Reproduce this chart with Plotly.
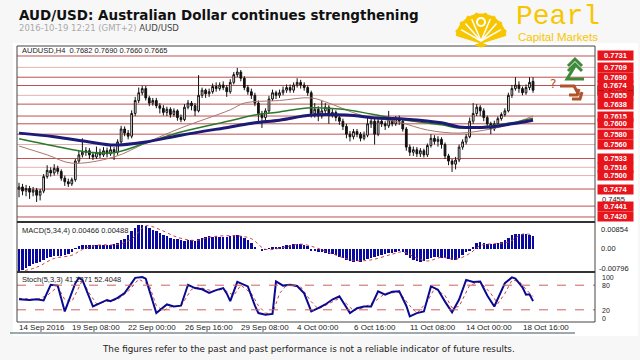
import math
import plotly.graph_objects as go

# ---------------- data ----------------
opens = [0.7474,0.7478,0.7470,0.7475,0.7468,0.7472,0.7462,0.7470,0.7498,0.7510,
         0.7505,0.7514,0.7508,0.7495,0.7488,0.7484,0.7492,0.7528,0.7540,0.7545,
         0.7548,0.7540,0.7536,0.7545,0.7540,0.7548,0.7542,0.7550,0.7545,0.7565,
         0.7590,0.7582,0.7576,0.7620,0.7645,0.7660,0.7668,0.7650,0.7640,0.7645,
         0.7635,0.7630,0.7622,0.7628,0.7618,0.7625,0.7612,0.7608,0.7632,0.7640,
         0.7635,0.7625,0.7655,0.7665,0.7658,0.7662,0.7672,0.7668,0.7675,0.7670,
         0.7662,0.7680,0.7695,0.7700,0.7688,0.7670,0.7662,0.7655,0.7640,0.7620,
         0.7612,0.7625,0.7648,0.7660,0.7655,0.7660,0.7665,0.7670,0.7665,0.7675,
         0.7680,0.7675,0.7670,0.7660,0.7620,0.7628,0.7615,0.7625,0.7632,0.7618,
         0.7622,0.7612,0.7605,0.7595,0.7580,0.7575,0.7585,0.7580,0.7572,0.7578,
         0.7600,0.7605,0.7580,0.7605,0.7600,0.7596,0.7608,0.7600,0.7610,0.7605,
         0.7590,0.7555,0.7545,0.7550,0.7542,0.7548,0.7540,0.7558,0.7572,0.7566,
         0.7570,0.7560,0.7538,0.7528,0.7522,0.7530,0.7555,0.7565,0.7575,0.7605,
         0.7620,0.7632,0.7625,0.7612,0.7600,0.7590,0.7600,0.7610,0.7618,0.7625,
         0.7655,0.7668,0.7675,0.7668,0.7660,0.7670,0.7682]
highs = [0.7486,0.7484,0.7482,0.7480,0.7478,0.7476,0.7474,0.7503,0.7520,0.7516,
         0.7522,0.7519,0.7512,0.7500,0.7494,0.7496,0.7532,0.7548,0.7572,0.7555,
         0.7553,0.7546,0.7556,0.7552,0.7555,0.7554,0.7557,0.7555,0.7570,0.7596,
         0.7595,0.7588,0.7626,0.7652,0.7670,0.7673,0.7673,0.7654,0.7650,0.7650,
         0.7640,0.7636,0.7633,0.7632,0.7630,0.7628,0.7618,0.7638,0.7646,0.7644,
         0.7640,0.7694,0.7670,0.7668,0.7668,0.7678,0.7680,0.7680,0.7682,0.7675,
         0.7686,0.7700,0.7708,0.7704,0.7692,0.7675,0.7668,0.7660,0.7645,0.7625,
         0.7630,0.7654,0.7666,0.7664,0.7666,0.7672,0.7676,0.7676,0.7680,0.7688,
         0.7685,0.7680,0.7674,0.7664,0.7640,0.7634,0.7645,0.7640,0.7636,0.7630,
         0.7626,0.7618,0.7610,0.7600,0.7586,0.7590,0.7590,0.7584,0.7585,0.7612,
         0.7612,0.7610,0.7612,0.7610,0.7605,0.7625,0.7612,0.7615,0.7616,0.7610,
         0.7594,0.7560,0.7556,0.7555,0.7553,0.7552,0.7562,0.7580,0.7578,0.7576,
         0.7574,0.7564,0.7542,0.7532,0.7536,0.7560,0.7570,0.7580,0.7612,0.7640,
         0.7638,0.7636,0.7630,0.7616,0.7604,0.7606,0.7614,0.7622,0.7630,0.7660,
         0.7675,0.7690,0.7682,0.7672,0.7676,0.7690,0.7690]
lows = [0.7458,0.7462,0.7460,0.7455,0.7460,0.7449,0.7452,0.7466,0.7494,0.7498,
        0.7500,0.7502,0.7490,0.7480,0.7478,0.7480,0.7488,0.7524,0.7535,0.7538,
        0.7532,0.7530,0.7532,0.7534,0.7536,0.7535,0.7538,0.7530,0.7540,0.7560,
        0.7576,0.7570,0.7572,0.7615,0.7640,0.7655,0.7645,0.7634,0.7635,0.7630,
        0.7620,0.7616,0.7615,0.7612,0.7614,0.7606,0.7603,0.7605,0.7628,0.7626,
        0.7615,0.7622,0.7650,0.7650,0.7652,0.7658,0.7662,0.7664,0.7665,0.7652,
        0.7658,0.7676,0.7690,0.7682,0.7665,0.7656,0.7648,0.7634,0.7605,0.7592,
        0.7606,0.7620,0.7644,0.7648,0.7650,0.7655,0.7660,0.7660,0.7660,0.7670,
        0.7668,0.7664,0.7654,0.7612,0.7612,0.7605,0.7610,0.7618,0.7600,0.7612,
        0.7605,0.7598,0.7588,0.7572,0.7566,0.7570,0.7574,0.7566,0.7568,0.7574,
        0.7592,0.7560,0.7576,0.7594,0.7588,0.7592,0.7595,0.7596,0.7598,0.7585,
        0.7548,0.7538,0.7538,0.7536,0.7536,0.7535,0.7536,0.7554,0.7560,0.7556,
        0.7552,0.7532,0.7520,0.7507,0.7512,0.7526,0.7550,0.7560,0.7572,0.7600,
        0.7615,0.7615,0.7605,0.7594,0.7580,0.7586,0.7596,0.7606,0.7614,0.7622,
        0.7650,0.7664,0.7660,0.7655,0.7656,0.7665,0.7660]
closes = [0.7478,0.7470,0.7475,0.7468,0.7472,0.7462,0.7470,0.7498,0.7510,0.7505,
          0.7514,0.7508,0.7495,0.7488,0.7484,0.7492,0.7528,0.7540,0.7545,0.7548,
          0.7540,0.7536,0.7545,0.7540,0.7548,0.7542,0.7550,0.7545,0.7565,0.7590,
          0.7582,0.7576,0.7620,0.7645,0.7660,0.7668,0.7650,0.7640,0.7645,0.7635,
          0.7630,0.7622,0.7628,0.7618,0.7625,0.7612,0.7608,0.7632,0.7640,0.7635,
          0.7625,0.7655,0.7665,0.7658,0.7662,0.7672,0.7668,0.7675,0.7670,0.7662,
          0.7680,0.7695,0.7700,0.7688,0.7670,0.7662,0.7655,0.7640,0.7620,0.7612,
          0.7625,0.7648,0.7660,0.7655,0.7660,0.7665,0.7670,0.7665,0.7675,0.7680,
          0.7675,0.7670,0.7660,0.7620,0.7628,0.7615,0.7625,0.7632,0.7618,0.7622,
          0.7612,0.7605,0.7595,0.7580,0.7575,0.7585,0.7580,0.7572,0.7578,0.7600,
          0.7605,0.7580,0.7605,0.7600,0.7596,0.7608,0.7600,0.7610,0.7605,0.7590,
          0.7555,0.7545,0.7550,0.7542,0.7548,0.7540,0.7558,0.7572,0.7566,0.7570,
          0.7560,0.7538,0.7528,0.7522,0.7530,0.7555,0.7565,0.7575,0.7605,0.7620,
          0.7632,0.7625,0.7612,0.7600,0.7590,0.7600,0.7610,0.7618,0.7625,0.7655,
          0.7668,0.7675,0.7668,0.7660,0.7670,0.7680,0.7665]

ma_slow_idx = [0,10,20,27,36,46,60,67,74,83,93,102,110,120,125,134,140,146]
ma_slow = [0.7582,0.7575,0.7565,0.7559,0.7565,0.7578,0.7594,0.7602,0.7607,0.7617,
           0.7617,0.7611,0.7609,0.7602,0.7594,0.7594,0.7600,0.7607]
ma_mid_idx = [0,10,20,27,36,46,60,67,74,83,92,100,110,120,125,134,140,146]
ma_mid = [0.7571,0.7557,0.7545,0.7544,0.7563,0.7584,0.7606,0.7617,0.7623,0.7631,
          0.7628,0.7619,0.7607,0.7598,0.7592,0.7596,0.7602,0.7611]
ma_fast_idx = [0,8,15,27,36,46,60,64,74,83,88,97,108,116,125,134,140,146]
ma_fast = [0.7557,0.7540,0.7524,0.7536,0.7563,0.7592,0.7627,0.7640,0.7645,0.7650,
           0.7640,0.7617,0.7603,0.7588,0.7582,0.7590,0.7600,0.7615]

levels = [0.7731,0.7709,0.7690,0.7674,0.7655,0.7638,0.7615,0.7600,0.7580,0.7560,
          0.7533,0.7516,0.7500,0.7474,0.7441,0.7420]
level_dark = [True,False,True,True,False,True,True,True,True,False,
              True,False,False,True,True,True]
last_price = 0.7665

macd_hist = [-0.0076,-0.0072,
             -0.0066,-0.0060,-0.0054,-0.0050,
             -0.0045,-0.0038,-0.0032,-0.0027,
             -0.0025,-0.0023,-0.0024,-0.0021,-0.0019,
             -0.0010,0.0002,
             0.0012,0.0014,0.0015,0.0014,0.0013,0.0014,0.0015,0.0013,0.0014,0.0015,0.0016,
             0.0022,0.0030,0.0036,
             0.0048,0.0062,0.0075,0.0083,
             0.0085,0.0080,0.0074,0.0068,0.0062,0.0056,0.0050,
             0.0045,0.0040,0.0036,0.0034,0.0030,0.0029,0.0032,0.0030,0.0028,0.0034,
             0.0040,0.0043,0.0044,0.0043,0.0044,0.0042,0.0043,0.0041,
             0.0044,0.0048,0.0050,0.0046,0.0040,
             0.0030,0.0020,0.0008,0.0000,-0.0006,
             -0.0002,0.0003,0.0004,0.0005,
             0.0008,0.0011,0.0013,0.0015,0.0017,0.0018,0.0016,0.0014,0.0010,
             -0.0004,-0.0008,-0.0011,-0.0012,-0.0014,
             -0.0016,-0.0018,-0.0022,-0.0027,-0.0033,-0.0038,-0.0042,-0.0044,-0.0043,-0.0044,-0.0040,-0.0034,
             -0.0030,-0.0027,-0.0025,-0.0022,-0.0018,-0.0015,-0.0013,
             -0.0010,-0.0008,-0.0012,-0.0022,
             -0.0032,-0.0038,-0.0042,-0.0044,-0.0041,
             -0.0036,-0.0031,-0.0028,-0.0027,-0.0030,-0.0032,-0.0036,
             -0.0040,-0.0038,
             -0.0030,-0.0020,-0.0012,-0.0004,0.0008,
             0.0020,0.0024,0.0022,0.0019,0.0017,0.0018,0.0021,0.0024,0.0030,
             0.0040,0.0048,0.0053,0.0054,0.0052,0.0053,0.0050,0.0047]
macd_sig_idx = [0,5,10,15,18,22,28,32,36,40,45,50,55,62,66,70,75,80,84,88,95,
                100,106,109,113,116,120,124,128,131,135,139,143,146]
macd_sig = [-0.0080,-0.0064,-0.0033,-0.0022,-0.0002,0.0013,0.0016,0.0035,0.0081,
            0.0068,0.0041,0.0030,0.0043,0.0046,0.0036,-0.0001,0.0005,0.0017,0.0006,
            -0.0012,-0.0040,-0.0038,-0.0018,-0.0010,-0.0032,-0.0042,-0.0029,-0.0036,
            -0.0016,0.0012,0.0019,0.0024,0.0052,0.0049]

stoch_k_idx = [0,3,5,7,9,11,13,16,17,18,21,23,25,26,28,30,32,33,35,36,39,41,42,44,
               46,48,50,52,54,56,58,59,60,62,64,65,67,68,70,72,73,75,77,79,81,83,
               85,87,89,91,94,96,98,100,102,104,106,108,110,111,113,115,117,119,
               121,123,125,127,129,131,133,135,138,140,141,143,144,145,146]
stoch_k = [46,44,46,43,81,79,16,85,98,93,28,37,44,41,49,61,85,98,100,96,12,25,33,
           28,30,81,73,70,61,68,73,60,41,88,80,77,30,12,8,10,89,79,81,78,60,16,
           24,33,45,53,12,24,28,28,65,57,64,65,30,4,12,16,77,69,40,14,45,93,88,
           89,55,28,85,99,96,75,57,58,41.24]
stoch_d_idx = [0,5,8,11,13,15,18,20,22,25,28,31,34,37,39,41,43,46,49,51,55,58,61,
               63,66,68,70,72,74,76,80,83,85,88,91,93,95,98,101,104,108,111,113,
               116,118,121,123,125,128,131,134,136,138,140,142,144,146]
stoch_d = [48,45,55,76,45,40,92,60,35,40,45,65,95,80,30,18,27,29,70,75,66,70,55,
           80,60,30,12,10,60,80,76,40,22,35,48,35,18,26,40,60,63,30,12,40,72,55,
           25,28,80,88,60,35,60,92,90,70,52.40]

date_idx = [0,15,31,47,63,79,95,111,127,143]
date_labels = ["14 Sep 2016","19 Sep 08:00","22 Sep 00:00","26 Sep 16:00",
               "29 Sep 08:00","4 Oct 00:00","6 Oct 16:00","11 Oct 08:00",
               "14 Oct 00:00","18 Oct 16:00"]

# ---------------- layout helpers ----------------
W, H = 640, 360
ML, MR, MT, MB = 17, 45, 46, 38
PW, PH = W - ML - MR, H - MT - MB
def px(x): return (x - ML) / PW
def py(y): return (H - MB - y) / PH

xs = list(range(len(closes)))
fig = go.Figure()

fig.add_trace(go.Candlestick(
    x=xs, open=opens, high=highs, low=lows, close=closes,
    increasing=dict(line=dict(color="#111", width=1), fillcolor="#ffffff"),
    decreasing=dict(line=dict(color="#111", width=1), fillcolor="#111111"),
    whiskerwidth=0, showlegend=False, hoverinfo="skip", yaxis="y"))
fig.add_trace(go.Scatter(x=ma_fast_idx, y=ma_fast, mode="lines", line=dict(color="#a87770", width=1, shape="spline"), yaxis="y", showlegend=False))
fig.add_trace(go.Scatter(x=ma_mid_idx, y=ma_mid, mode="lines", line=dict(color="#2b7a2b", width=1.5, shape="spline"), yaxis="y", showlegend=False))
fig.add_trace(go.Scatter(x=ma_slow_idx, y=ma_slow, mode="lines", line=dict(color="#1c1c78", width=3, shape="spline"), yaxis="y", showlegend=False))

fig.add_trace(go.Bar(x=xs, y=macd_hist, marker=dict(color="#0a0aa0", line=dict(width=0)), width=0.7, yaxis="y2", showlegend=False))
fig.add_trace(go.Scatter(x=macd_sig_idx, y=macd_sig, mode="lines", line=dict(color="#d04040", width=1, dash="dot", shape="spline"), yaxis="y2", showlegend=False))

fig.add_trace(go.Scatter(x=stoch_d_idx, y=stoch_d, mode="lines", line=dict(color="#d04040", width=1, dash="dot"), yaxis="y3", showlegend=False))
fig.add_trace(go.Scatter(x=stoch_k_idx, y=stoch_k, mode="lines", line=dict(color="#0a0a90", width=2), yaxis="y3", showlegend=False))

shapes = []
shapes.append(dict(type="rect", xref="paper", yref="paper", x0=px(13), x1=px(638), y0=py(336), y1=py(43), fillcolor="white", line=dict(width=0), layer="below"))
for lv, dk in zip(levels, level_dark):
    shapes.append(dict(type="line", xref="paper", yref="y", x0=0, x1=1, y0=lv, y1=lv,
                       line=dict(color="#c0504d" if dk else "#e6b0b0", width=1), layer="below"))
shapes.append(dict(type="line", xref="paper", yref="y3", x0=0, x1=1, y0=80, y1=80, line=dict(color="#d06060", width=1, dash="dash")))
shapes.append(dict(type="line", xref="paper", yref="y3", x0=0, x1=1, y0=20, y1=20, line=dict(color="#d06060", width=1, dash="dash")))
for a, b in [(46, 222), (222, 272), (272, 322)]:
    shapes.append(dict(type="rect", xref="paper", yref="paper", x0=0, x1=1, y0=py(b), y1=py(a), line=dict(color="#444", width=1)))
for yy in (222, 272):
    shapes.append(dict(type="line", xref="paper", yref="paper", x0=0, x1=1, y0=py(yy), y1=py(yy), line=dict(color="#333", width=2)))
shapes.append(dict(type="line", xref="paper", yref="paper", x0=px(10), x1=px(575), y0=py(333), y1=py(333), line=dict(color="#3a5560", width=1)))

# shell logo
cx, cy, r = 481, 39, 25
pts = []
for k in range(0, 33):
    th = math.radians(8 + k * (164 / 32))
    rr = r + (1.5 if k % 4 == 2 else 0)
    pts.append((cx + rr * math.cos(th), cy - rr * math.sin(th)))
path = "M %f %f " % (px(cx - 6), py(cy + 6))
path += " ".join("L %f %f" % (px(a), py(b)) for a, b in pts)
path += " L %f %f L %f %f Z" % (px(cx + 6), py(cy + 6), px(cx), py(cy + 8))
shapes.append(dict(type="path", xref="paper", yref="paper", path=path, fillcolor="#f7c600", line=dict(color="#f7c600", width=1)))
for ang in (25, 45, 65, 115, 135, 155):
    th = math.radians(ang)
    shapes.append(dict(type="line", xref="paper", yref="paper", x0=px(cx), y0=py(cy + 2),
                       x1=px(cx + (r - 3) * math.cos(th)), y1=py(cy - (r - 3) * math.sin(th)),
                       line=dict(color="white", width=1.5)))
shapes.append(dict(type="circle", xref="paper", yref="paper", x0=px(cx - 5), x1=px(cx + 5), y0=py(cy - 12), y1=py(cy - 22), fillcolor="white", line=dict(width=0)))
shapes.append(dict(type="circle", xref="paper", yref="paper", x0=px(cx - 3), x1=px(cx + 3), y0=py(cy - 14), y1=py(cy - 20), fillcolor="#f7c600", line=dict(width=0)))

def P(pl):
    return "M " + " L ".join("%f %f" % (px(a), py(b)) for a, b in pl)
green = "#3f8a3a"
for pl in ([(568, 66), (575, 59), (582, 66)], [(568, 71), (575, 64), (582, 71)], [(575, 66), (567, 79), (584, 79)]):
    shapes.append(dict(type="path", xref="paper", yref="paper", path=P(pl), line=dict(color=green, width=3)))
brown = "#b0532a"
for pl in ([(560, 86), (574, 86), (579, 95)], [(572, 99), (580, 99), (582, 92)], [(569, 95), (577, 95), (579, 89)]):
    shapes.append(dict(type="path", xref="paper", yref="paper", path=P(pl), line=dict(color=brown, width=3)))

ann = []
def txt(x, y, s, size=8, color="#222", xa="left", ya="middle", family="DejaVu Sans", **kw):
    ann.append(dict(x=px(x), y=py(y), xref="paper", yref="paper", text=s, showarrow=False,
                    xanchor=xa, yanchor=ya, font=dict(size=size, color=color, family=family), **kw))

SMALL = "Liberation Sans"
txt(17, 15, "<b>AUD/USD: Australian Dollar continues strengthening</b>", size=13.5, color="#111")
txt(17, 28, "2016-10-19 12:21 (GMT+2) <span style='color:#444'>AUD/USD</span>", size=8.5, color="#aaa")
txt(514, 17, "Pearl", size=28, color="#f7c600", family="Liberation Mono")
txt(516, 37, "Capital Markets", size=11.5, color="#f7c600", family="Liberation Sans")
txt(20, 51, "AUDUSD,H4  0.7682 0.7690 0.7660 0.7665", size=7.5, color="#222", family=SMALL)
txt(20, 230, "MACD(5,34,4) 0.00466 0.00488", size=7.5, color="#222", family=SMALL)
txt(20, 279, "Stoch(5,3,3) 41.2371 52.4048", size=7.5, color="#222", family=SMALL)
txt(548, 84, "?", size=12, color=brown)
txt(600, 199, "0.7455", size=7.5, color="#222", family=SMALL)
txt(599, 229, "0.00854", size=7.5, color="#222", family=SMALL)
txt(599, 249, "0.00", size=7.5, color="#222", family=SMALL)
txt(597, 268, "-0.00796", size=7.5, color="#222", family=SMALL)
txt(600, 277, "100", size=7, color="#222", family=SMALL)
txt(600, 285, "80", size=7, color="#222", family=SMALL)
txt(600, 310, "20", size=7, color="#222", family=SMALL)
txt(600, 318.5, "0", size=7, color="#222", family=SMALL)
txt(308, 349, "The figures refer to the past and past performance is not a reliable indicator of future results.", size=8.8, color="#222", xa="center")

ann.append(dict(x=px(597), y=last_price, xref="paper", yref="y", text="<b>0.7665</b>", showarrow=False,
                xanchor="left", yanchor="middle", bgcolor="#000", borderpad=0, width=35,
                font=dict(size=7.5, color="white", family=SMALL)))
for lv in levels:
    ann.append(dict(x=px(597), y=lv, xref="paper", yref="y", text="<b>%.4f</b>" % lv, showarrow=False,
                    xanchor="left", yanchor="middle", bgcolor="#e8141c", borderpad=0, width=35,
                    font=dict(size=7.5, color="white", family=SMALL)))
for i, lab in zip(date_idx, date_labels):
    ann.append(dict(x=i - 0.5, y=py(327), xref="x", yref="paper", text=lab, showarrow=False,
                    xanchor="left", yanchor="middle", font=dict(size=8, color="#222", family=SMALL)))

fig.update_layout(
    width=W, height=H, margin=dict(l=ML, r=MR, t=MT, b=MB),
    paper_bgcolor="#f7f7f7", plot_bgcolor="white", showlegend=False, bargap=0,
    xaxis=dict(range=[-0.57, 163.6], showgrid=False, zeroline=False, showticklabels=False,
               rangeslider=dict(visible=False), anchor="y3", fixedrange=True),
    yaxis=dict(domain=[py(222), 1], range=[0.74103, 0.77503], showgrid=False, zeroline=False,
               showticklabels=False, anchor="x"),
    yaxis2=dict(domain=[py(272), py(222)], range=[-0.00805, 0.00945], showgrid=False, zeroline=False,
                showticklabels=False, anchor="x"),
    yaxis3=dict(domain=[0, py(272)], range=[-9.76, 112.2], showgrid=False, zeroline=False,
                showticklabels=False, anchor="x"),
    shapes=shapes, annotations=ann,
)
fig.write_html("out.html", config={"displayModeBar": False},
               post_script="document.body.style.margin='0';")
